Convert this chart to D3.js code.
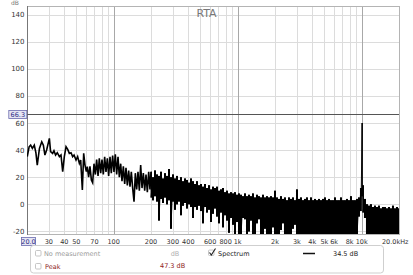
<!DOCTYPE html>
<html>
<head>
<meta charset="utf-8">
<script src="https://cdn.jsdelivr.net/npm/d3@7"></script>
<style>
  html, body { margin: 0; padding: 0; background: #fff; }
  svg { display: block; font-family: "DejaVu Sans", sans-serif; }
</style>
</head>
<body>
<svg id="chart" width="413" height="275"></svg>
<script>
// axis ticks / grid
const yTicks = [140, 120, 100, 80, 60, 40, 20, 0, -20];
const minorHz = [30, 40, 50, 60, 70, 80, 90, 200, 300, 400, 500, 600, 700, 800, 900,
  2000, 3000, 4000, 5000, 6000, 7000, 8000, 9000];
const decadeHz = [100, 1000, 10000];
const xTickHz = [30, 40, 50, 70, 100, 200, 300, 400, 600, 800, 1000, 2000, 3000, 4000, 5000, 6000, 8000, 10000];
const xTickLabels = ["30", "40", "50", "70", "100", "200", "300", "400", "600", "800",
  "1k", "2k", "3k", "4k", "5k", "6k", "8k", "10k"];
const markerDb = 66.3;

// low end of the spectrum (single visible trace)
const lowHz = [20.1, 20.8, 21.4, 22.1, 22.9, 23.6, 24.2, 25.2, 26.3, 27.1, 27.9, 28.8, 30.3, 31.0, 32.2,
  33.0, 34.0, 35.1, 36.5, 37.6, 38.8, 40.0, 41.3, 42.6, 43.9, 45.3, 46.7, 47.9, 49.7, 51.2,
  52.9, 54.2, 55.9, 57.3, 58.7, 60.2, 61.3, 62.8, 64.4, 66.1, 67.7, 69.4, 71.2, 72.9, 74.8,
  76.6, 78.6, 80.5, 82.5, 84.6, 86.7, 88.9, 91.1, 93.4, 95.7, 98.1, 100.6, 103.1, 105.7, 108.4,
  111.1, 113.9, 116.7, 119.7, 122.7, 125.7, 128.9, 132.1, 135.4, 138.8, 142.3, 145.9, 149.5, 153.3, 157.1,
  161.1, 165.1, 169.3, 173.5, 177.9, 182.3, 186.9, 191.6, 196.3];
const lowDb = [35.2, 42.5, 43.7, 41.3, 43.7, 38, 29.0, 41.3, 46.2, 43.7, 36.4, 40.1, 48.7, 38.9, 37.6,
  39.6, 36.4, 38.1, 35.2, 36.4, 24.1, 35.2, 42.5, 40.6, 37.6, 38.1, 35.2, 36.4, 32.7, 35.2,
  30.2, 32.7, 10.6, 37.6, 29.0, 24.1, 27.8, 20, 28, 18, 16, 30, 22, 33, 21,
  34, 23, 33, 22, 35, 24, 34, 21, 35, 23, 36, 24, 37, 22, 35,
  20, 30, 17, 28, 15, 27, 14, 25, 13, 24, 12, 2, 23, 11, 24,
  10, 29, 12, 23, 10, 22, 9, 24, 11];

// dense part: per-bin max and min levels
const denseHz = [200, 207.6, 215.4, 223.6, 232.0, 240.8, 249.9, 259.4, 269.2, 279.4,
  289.9, 300.9, 312.3, 324.1, 336.4, 349.1, 362.3, 376.0, 390.2, 405.0,
  420.3, 436.2, 452.7, 469.8, 487.6, 506.0, 525.2, 545.0, 565.7, 587.1,
  609.3, 632.3, 656.2, 681.1, 706.8, 733.6, 761.3, 790.1, 820.0, 851.0,
  883.2, 916.6, 951.3, 987.3, 1024.6, 1063.4, 1103.6, 1145.4, 1188.7, 1233.7,
  1280.4, 1328.8, 1379.1, 1431.3, 1485.4, 1541.6, 1599.9, 1660.5, 1723.3, 1788.5,
  1856.2, 1926.4, 2000, 2075, 2153, 2235, 2319, 2407, 2498, 2593,
  2691, 2793, 2898, 3008, 3122, 3240, 3362, 3490, 3622, 3759,
  3901, 4048, 4202, 4361, 4526, 4697, 4874, 5059, 5250, 5449,
  5655, 5869, 6091, 6321, 6560, 6808, 7066, 7333, 7611, 7898,
  8197, 8507, 8829, 9163, 9510, 9869, 10100, 10243, 10630, 11032,
  11450, 11883, 12333, 12799, 13284, 13786, 14308, 14849, 15411, 15994,
  16599, 17227, 17879, 18556, 19258, 20000];
const denseMax = [24, 20, 25, 22, 21, 24, 19, 23, 21, 26,
  20, 22, 19, 21, 18, 20, 17, 19, 18, 16,
  19, 17, 15, 17, 14, 15, 13, 15, 12, 14,
  11, 13, 12, 13, 10, 11, 12, 9, 10, 8,
  9, 8, 9, 7, 8, 7, 6, 8, 6, 7,
  6, 8, 5, 7, 6, 5, 7, 5, 6, 5,
  6, 5, 10, 5, 4, 6, 4, 5, 3, 5,
  4, 5, 3, 11, 4, 5, 3, 4, 5, 3,
  5, 3, 4, 3, 4, 3, 4, 5, 3, 4,
  3, 3, 5, 3, 3, 5, 3, 3, 4, 3,
  6, 3, 3, 4, 5, 12, 60, 14, 4, 0,
  -1, 0, -2, -1, -2, -1, -3, -2, -2, -3,
  -2, -3, -1, -3, -2, -3];
const denseMin = [5, 3, 6, 2, -12, 4, 1, 5, 0, 3,
  -18, 2, -4, 0, 2, -8, -1, 1, -3, 0,
  -2, -10, -2, -4, -1, -5, -14, -2, -6, -4,
  -13, -7, -3, -9, -14, -6, -17, -8, -12, -21,
  -10, -15, -22, -13, -24, -24, -10, -11, -24, -20,
  -12, -24, -24, -14, -11, -24, -24, -18, -24, -24,
  -24, -17, -24, -24, -24, -19, -14, -24, -24, -24,
  -24, -18, -15, -24, -24, -24, -24, -24, -24, -24,
  -24, -24, -24, -24, -24, -24, -24, -24, -24, -24,
  -24, -24, -24, -24, -24, -24, -24, -24, -24, -24,
  -24, -24, -24, -24, -9, -5, 6, -6, -10, -24,
  -24, -24, -24, -24, -24, -24, -24, -24, -24, -24,
  -24, -24, -24, -24, -24, -24];

const spectrumLevel = "34.5 dB";
const peakLevel = "47.3 dB";

const plot = { left: 27, right: 399, top: 6, bottom: 234 };
const svg = d3.select("#chart");

const x = d3.scaleLog().domain([20, 20000]).range([plot.left, plot.right]);
const y = d3.scaleLinear().domain([-21.9, 146.4]).range([plot.bottom, plot.top]);
const px = v => Math.round(v) + 0.5;

// grid lines
svg.append("g").selectAll("line").data(yTicks).join("line")
  .attr("x1", plot.left).attr("x2", plot.right)
  .attr("y1", d => px(y(d))).attr("y2", d => px(y(d)))
  .attr("stroke", "#dcdcdc");

svg.append("g").selectAll("line").data(minorHz).join("line")
  .attr("x1", d => px(x(d))).attr("x2", d => px(x(d)))
  .attr("y1", plot.top).attr("y2", plot.bottom)
  .attr("stroke", "#dcdcdc");

svg.append("g").selectAll("line").data(decadeHz).join("line")
  .attr("x1", d => px(x(d))).attr("x2", d => px(x(d)))
  .attr("y1", plot.top).attr("y2", plot.bottom)
  .attr("stroke", "#a8a8a8");

// frame
svg.append("rect")
  .attr("x", plot.left + 0.5).attr("y", plot.top + 0.5)
  .attr("width", plot.right - plot.left).attr("height", plot.bottom - plot.top)
  .attr("fill", "none").attr("stroke", "#b4b4b4");
svg.append("line")
  .attr("x1", plot.left + 0.5).attr("x2", plot.left + 0.5)
  .attr("y1", plot.top).attr("y2", plot.bottom + 1)
  .attr("stroke", "#777");

// spectrum trace
svg.append("clipPath").attr("id", "clip").append("rect")
  .attr("x", plot.left).attr("y", plot.top)
  .attr("width", plot.right - plot.left).attr("height", plot.bottom - plot.top);

const spec = svg.append("g").attr("clip-path", "url(#clip)");

const lowLine = d3.line().x(d => x(d[0])).y(d => y(d[1]));
spec.append("path")
  .attr("d", lowLine(lowHz.map((f, i) => [f, lowDb[i]]).concat([[denseHz[0], denseMax[0]]])))
  .attr("fill", "none")
  .attr("stroke", "#000")
  .attr("stroke-width", 1.6);

// min/max columns for the dense bins
const band = d3.area()
  .curve(d3.curveStep)
  .x((f, i) => x(f))
  .y0((f, i) => y(denseMin[i]))
  .y1((f, i) => y(denseMax[i]));
spec.append("path")
  .attr("d", band(denseHz))
  .attr("fill", "#000");

const zig = [];
denseHz.forEach((f, i) => {
  zig.push([f, denseMax[i]]);
  zig.push([f, denseMin[i]]);
});
spec.append("path")
  .attr("d", lowLine(zig))
  .attr("fill", "none")
  .attr("stroke", "#000")
  .attr("stroke-width", 0.9);

// marker level line
svg.append("line")
  .attr("x1", plot.left).attr("x2", plot.right)
  .attr("y1", y(markerDb)).attr("y2", y(markerDb))
  .attr("stroke", "#555").attr("stroke-width", 1.2);

// y labels
svg.append("g").selectAll("text").data(yTicks).join("text")
  .attr("x", 24.5).attr("y", d => y(d) + 2.5)
  .attr("text-anchor", "end")
  .attr("font-size", 7).attr("fill", "#333")
  .text(d => d);

svg.append("text").attr("x", 15).attr("y", 5).attr("text-anchor", "middle")
  .attr("font-size", 6).attr("fill", "#777").text("dB");

// x labels
svg.append("g").selectAll("text").data(xTickHz).join("text")
  .attr("x", d => x(d)).attr("y", 243.5)
  .attr("text-anchor", "middle")
  .attr("font-size", 6.5).attr("fill", "#333")
  .text((d, i) => xTickLabels[i]);

svg.append("text").attr("x", 408.5).attr("y", 243.5).attr("text-anchor", "end")
  .attr("font-size", 6.5).attr("fill", "#333").text("20.0kHz");

// value boxes
function valueBox(cx, cy, w, label) {
  svg.append("rect")
    .attr("x", cx - w / 2).attr("y", cy - 4).attr("width", w).attr("height", 8)
    .attr("fill", "#e6e6f3").attr("stroke", "#6a6aae").attr("stroke-width", 0.8);
  svg.append("text").attr("x", cx).attr("y", cy + 2.4).attr("text-anchor", "middle")
    .attr("font-size", 6.5).attr("fill", "#2e2e88").text(label);
}
valueBox(17.8, y(markerDb), 18, markerDb.toFixed(1));
valueBox(28.5, 241.5, 14, "20.0");

// title
svg.append("text").attr("x", 206.5).attr("y", 17).attr("text-anchor", "middle")
  .attr("font-size", 11).attr("fill", "#777").text("RTA");

// legend
svg.append("rect")
  .attr("x", 30.5).attr("y", 245.5).attr("width", 353).attr("height", 27.5).attr("rx", 3)
  .attr("fill", "#fff").attr("stroke", "#cfcfcf");

function checkbox(bx, by, checked) {
  svg.append("rect").attr("x", bx).attr("y", by).attr("width", 5.5).attr("height", 5.5).attr("rx", 1)
    .attr("fill", "#fff").attr("stroke", "#b8b8b8").attr("stroke-width", 0.8);
  if (checked) {
    svg.append("path")
      .attr("d", `M${bx + 1},${by + 2.5} L${bx + 2.8},${by + 5} L${bx + 7},${by - 1.5}`)
      .attr("fill", "none").attr("stroke", "#222").attr("stroke-width", 1.1);
  }
}
checkbox(35.5, 250.5, false);
checkbox(35.5, 263.5, false);
checkbox(208.5, 250, true);

const legendText = (tx, ty, s, c, anchor) => svg.append("text")
  .attr("x", tx).attr("y", ty).attr("font-size", 6.5).attr("fill", c)
  .attr("text-anchor", anchor || "start").text(s);

legendText(44, 256, "No measurement", "#9a9a9a");
legendText(175, 255.5, "dB", "#b0b0b0", "middle");
legendText(218, 255.5, "Spectrum", "#222");
legendText(333, 255.5, spectrumLevel, "#222");
legendText(45, 268.5, "Peak", "#8e1b1b");
legendText(160, 267.5, peakLevel, "#8e1b1b");

svg.append("line").attr("x1", 303).attr("x2", 315).attr("y1", 253.5).attr("y2", 253.5)
  .attr("stroke", "#111").attr("stroke-width", 1.5);
</script>
</body>
</html>
